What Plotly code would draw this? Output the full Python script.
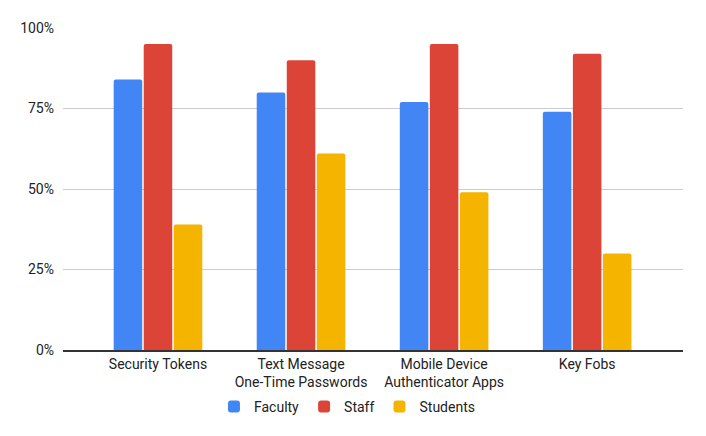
import plotly.graph_objects as go

categories = ["Security Tokens", "Text Message<br>One-Time Passwords",
              "Mobile Device<br>Authenticator Apps", "Key Fobs"]
faculty = [84, 80, 77, 74]
staff = [95, 90, 95, 92]
students = [39, 61, 49, 30]
tick_vals = [0, 25, 50, 75, 100]
tick_text = ["0%", "25%", "50%", "75%", "100%"]

series = [("Faculty", faculty, "#4285F4"),
          ("Staff", staff, "#DB4437"),
          ("Students", students, "#F4B400")]

fig = go.Figure()
for name, vals, color in series:
    fig.add_trace(go.Bar(x=list(range(len(categories))), y=vals, name=name,
                         marker=dict(color=color, line=dict(width=0), cornerradius=2)))

fig.update_layout(
    width=706, height=436,
    margin=dict(l=55, r=31, t=20, b=94, autoexpand=False),
    paper_bgcolor="white", plot_bgcolor="white",
    font=dict(family="Roboto", size=14, color="#222222"),
    barmode="group", bargap=0.37, bargroupgap=0.05,
    showlegend=True,
    legend=dict(orientation="h", x=0.458, xanchor="center",
                yref="container", y=0.085, yanchor="middle",
                font=dict(size=14, color="#222222"), itemwidth=30,
                traceorder="normal"),
    xaxis=dict(range=[-0.664, 3.67], tickvals=list(range(len(categories))),
               ticktext=categories, showgrid=False, zeroline=False,
               showline=True, linecolor="#333333", linewidth=2, automargin=False,
               ticks="", tickfont=dict(size=14, color="#222222"), fixedrange=True),
    yaxis=dict(range=[0, 100], tickvals=tick_vals, ticktext=tick_text,
               showgrid=True, gridcolor="#cccccc", gridwidth=1, automargin=False,
               zeroline=False, ticks="", ticklabelstandoff=8,
               tickfont=dict(size=14, color="#222222"), fixedrange=True),
)

fig.write_html("out.html")
